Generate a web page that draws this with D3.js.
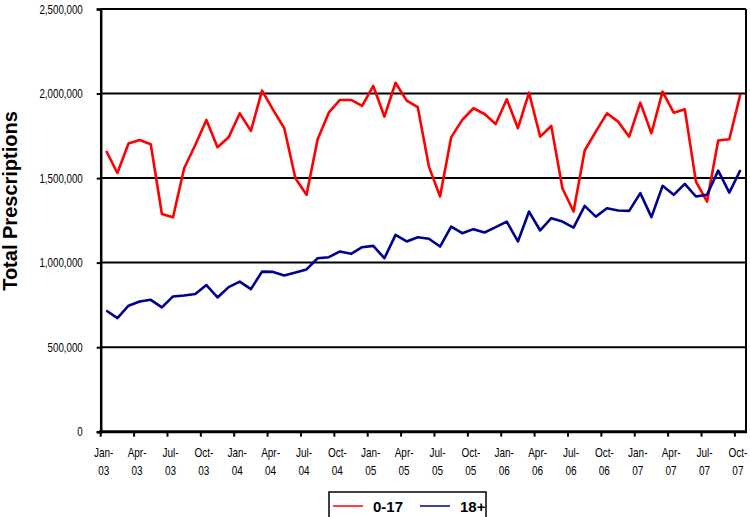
<!DOCTYPE html>
<html>
<head>
<meta charset="utf-8">
<script src="https://cdn.jsdelivr.net/npm/d3@7"></script>
<style>
    body { margin: 0; background: #fff; }
    svg { display: block; font-family: Arial, "Liberation Sans", sans-serif; }
</style>
</head>
<body>
<div id="chart"></div>
<script>
// Monthly categories, Jan 2003 .. Oct 2007
const months = d3.timeMonth.range(new Date(2003, 0, 1), new Date(2007, 10, 1));

// Total prescriptions, age 0-17
const kids = [1660000, 1530000, 1705000, 1725000, 1700000, 1288000, 1268000, 1558000, 1696000, 1844000,
    1682000, 1741000, 1883000, 1779000, 2017000, 1903000, 1795000, 1499000, 1401000, 1730000,
    1887000, 1962000, 1962000, 1927000, 2045000, 1864000, 2064000, 1958000, 1919000, 1568000,
    1391000, 1741000, 1844000, 1913000, 1879000, 1820000, 1966000, 1795000, 2005000, 1745000,
    1808000, 1440000, 1302000, 1663000, 1775000, 1883000, 1834000, 1745000, 1946000, 1765000,
    2011000, 1887000, 1907000, 1479000, 1361000, 1722000, 1730000, 1998000];

// Total prescriptions, age 18+
const adults = [717000, 672000, 745000, 770000, 780000, 735000, 800000, 806000, 814000, 867000,
    794000, 855000, 888000, 843000, 947000, 945000, 924000, 941000, 960000, 1026000,
    1032000, 1066000, 1052000, 1091000, 1099000, 1026000, 1164000, 1125000, 1150000, 1141000,
    1095000, 1213000, 1174000, 1198000, 1178000, 1210000, 1242000, 1125000, 1302000, 1190000,
    1263000, 1243000, 1207000, 1336000, 1272000, 1322000, 1308000, 1306000, 1411000, 1269000,
    1454000, 1401000, 1466000, 1391000, 1401000, 1544000, 1414000, 1548000];

const yTicks = [0, 500000, 1000000, 1500000, 2000000, 2500000];
const tickMonths = ["Jan", "Apr", "Jul", "Oct"];

const series = [
    { name: "0-17", values: kids, color: "#ff0000" },
    { name: "18+", values: adults, color: "#000090" }
];

const width = 750, height = 517;
const plotLeft = 100.7, plotRight = 746, plotTop = 9, plotBottom = 431.7;

const svg = d3.select("#chart").append("svg")
    .attr("width", width)
    .attr("height", height);

const x = d3.scaleBand()
    .domain(months.map(d => +d))
    .range([plotLeft, plotRight]);

const y = d3.scaleLinear()
    .domain([0, 2500000])
    .range([plotBottom, plotTop]);

// gridlines and frame
svg.append("g")
    .selectAll("line")
    .data(yTicks.filter(d => d > 0))
    .enter().append("line")
    .attr("x1", plotLeft).attr("x2", plotRight)
    .attr("y1", d => y(d)).attr("y2", d => y(d))
    .attr("stroke", "#000")
    .attr("stroke-width", 2);

svg.append("line")
    .attr("x1", plotRight).attr("x2", plotRight)
    .attr("y1", plotTop).attr("y2", plotBottom)
    .attr("stroke", "#000")
    .attr("stroke-width", 2);

// y axis
const yAxis = d3.axisLeft(y)
    .tickValues(yTicks)
    .tickSize(4)
    .tickPadding(19)
    .tickFormat(d3.format(","));

const gy = svg.append("g")
    .attr("transform", `translate(${plotLeft},0)`)
    .call(yAxis);
gy.select(".domain").attr("stroke-width", 2.5);
gy.selectAll(".tick line").attr("stroke-width", 2);
gy.selectAll(".tick text")
    .attr("font-size", 12.5)
    .attr("fill", "#000")
    .attr("font-family", "Arial, 'Liberation Sans', sans-serif")
    .attr("transform", "scale(0.78,1)");

// x axis: ticks at the start of every third month
const xAxis = d3.axisBottom(x)
    .tickValues(months.filter(d => d.getMonth() % 3 === 0).map(d => +d))
    .tickSize(5)
    .tickFormat("");

const gx = svg.append("g")
    .attr("transform", `translate(${-x.bandwidth() / 2},${plotBottom})`)
    .call(xAxis);
gx.select(".domain").remove();
gx.selectAll(".tick line").attr("stroke-width", 2);

svg.append("line")
    .attr("x1", plotLeft - 1.5).attr("x2", plotRight + 1)
    .attr("y1", plotBottom).attr("y2", plotBottom)
    .attr("stroke", "#000")
    .attr("stroke-width", 3);

const labels = svg.append("g")
    .selectAll("g")
    .data(months.filter(d => d.getMonth() % 3 === 0))
    .enter().append("g")
    .attr("transform", d => `translate(${x(+d) + 3},0) scale(0.8,1)`);

labels.append("text")
    .attr("y", 457)
    .attr("text-anchor", "middle")
    .attr("font-size", 12.5)
    .text(d => tickMonths[d.getMonth() / 3] + "-");

labels.append("text")
    .attr("y", 475)
    .attr("text-anchor", "middle")
    .attr("font-size", 12.5)
    .text(d => d3.timeFormat("%y")(d));

// y axis title
svg.append("text")
    .attr("transform", "translate(17,201) rotate(-90)")
    .attr("text-anchor", "middle")
    .attr("font-size", 20)
    .attr("font-weight", "bold")
    .text("Total Prescriptions");

// lines
const line = d3.line()
    .x((d, i) => x(+months[i]) + x.bandwidth() / 2)
    .y(d => y(d));

svg.append("g")
    .selectAll("path")
    .data(series)
    .enter().append("path")
    .attr("d", d => line(d.values))
    .attr("fill", "none")
    .attr("stroke", d => d.color)
    .attr("stroke-width", 2.6)
    .attr("stroke-linejoin", "round");

// legend
const legend = svg.append("g");
legend.append("rect")
    .attr("x", 329).attr("y", 492)
    .attr("width", 157).attr("height", 27)
    .attr("fill", "#fff")
    .attr("stroke", "#000")
    .attr("stroke-width", 1.5);

const item = legend.selectAll("g")
    .data(series)
    .enter().append("g")
    .attr("transform", (d, i) => `translate(${333 + i * 87},506)`);

item.append("line")
    .attr("x1", 0).attr("x2", 30)
    .attr("stroke", d => d.color)
    .attr("stroke-width", 1.5);

item.append("text")
    .attr("x", 40)
    .attr("y", 5.5)
    .attr("font-size", 15)
    .attr("font-weight", "bold")
    .text(d => d.name);
</script>
</body>
</html>
